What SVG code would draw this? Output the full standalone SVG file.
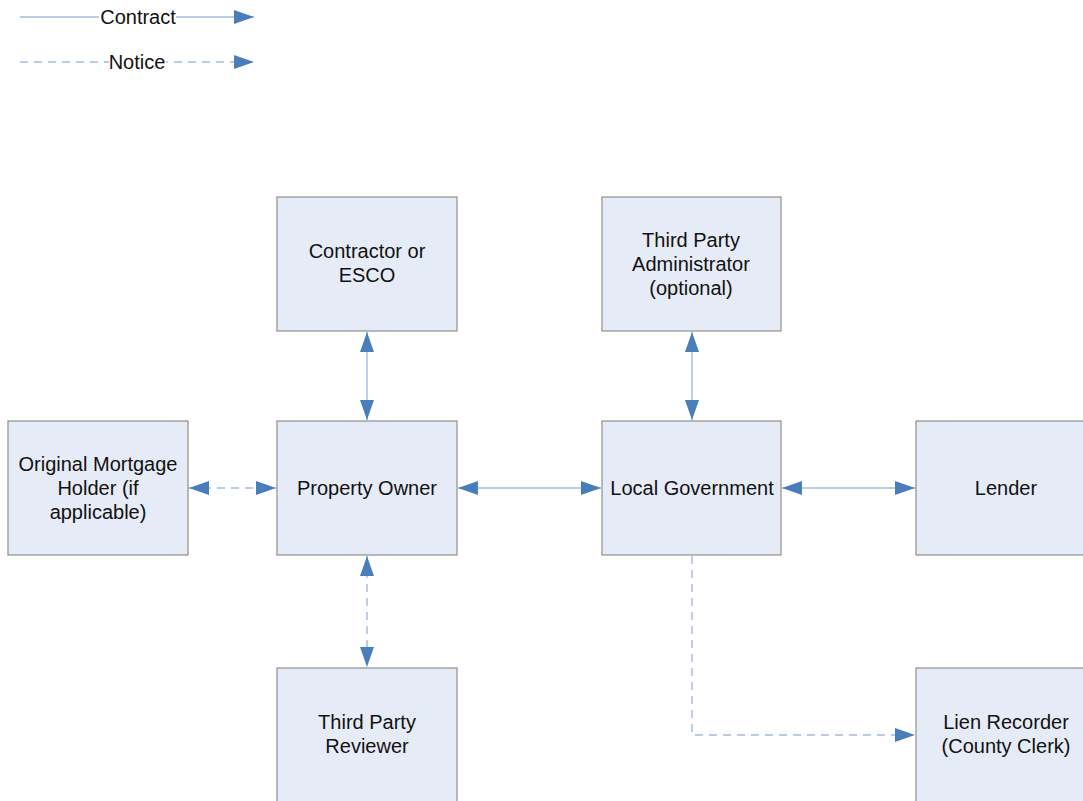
<svg xmlns="http://www.w3.org/2000/svg" width="1083" height="801" viewBox="0 0 1083 801">
  <defs>
    <marker id="head" viewBox="0 0 20 14" refX="20" refY="7" markerWidth="20" markerHeight="14" markerUnits="userSpaceOnUse" orient="auto-start-reverse">
      <path d="M0,0 L20,7 L0,14 Z" fill="#4a7ebb"/>
    </marker>
    <style>
      .box { fill: #e6ecf7; stroke: #8f8f8f; stroke-width: 1.2; }
      .lbl { font-family: "Liberation Sans", Arial, sans-serif; font-size: 20px; fill: #111; text-anchor: middle; }
      .solid { fill: none; stroke: #a3bbdd; stroke-width: 1.4; }
      .dash { fill: none; stroke: #a3bbdd; stroke-width: 1.4; stroke-dasharray: 8 6; }
    </style>
  </defs>
  <rect width="1083" height="801" fill="#ffffff"/>

  <!-- legend -->
  <g id="legend">
    <line class="solid" x1="20" y1="17" x2="254" y2="17" marker-end="url(#head)"/>
    <rect x="99" y="6" width="77" height="22" fill="#ffffff"/>
    <text class="lbl" x="138" y="24">Contract</text>
    <line class="dash" x1="20" y1="62" x2="254" y2="62" marker-end="url(#head)"/>
    <rect x="109" y="51" width="57" height="22" fill="#ffffff"/>
    <text class="lbl" x="137" y="69">Notice</text>
  </g>

  <!-- connectors -->
  <g id="connectors">
    <line class="solid" x1="367" y1="332" x2="367" y2="420" marker-start="url(#head)" marker-end="url(#head)"/>
    <line class="solid" x1="692" y1="332" x2="692" y2="420" marker-start="url(#head)" marker-end="url(#head)"/>
    <line class="dash" x1="189" y1="488" x2="276" y2="488" marker-start="url(#head)" marker-end="url(#head)"/>
    <line class="solid" x1="458" y1="488" x2="601" y2="488" marker-start="url(#head)" marker-end="url(#head)"/>
    <line class="solid" x1="782" y1="488" x2="915" y2="488" marker-start="url(#head)" marker-end="url(#head)"/>
    <line class="dash" x1="367" y1="556" x2="367" y2="667" marker-start="url(#head)" marker-end="url(#head)"/>
    <polyline class="dash" points="692,556 692,735 915,735" marker-end="url(#head)"/>
  </g>

  <g id="contractor">
    <rect class="box" x="277" y="197" width="180" height="134"/>
    <text class="lbl" x="367" y="258">Contractor or</text>
    <text class="lbl" x="367" y="282">ESCO</text>
  </g>
  <g id="administrator">
    <rect class="box" x="602" y="197" width="179" height="134"/>
    <text class="lbl" x="691" y="247">Third Party</text>
    <text class="lbl" x="691" y="271">Administrator</text>
    <text class="lbl" x="691" y="295">(optional)</text>
  </g>
  <g id="mortgage-holder">
    <rect class="box" x="8" y="421" width="180" height="134"/>
    <text class="lbl" x="98" y="471">Original Mortgage</text>
    <text class="lbl" x="98" y="495">Holder (if</text>
    <text class="lbl" x="98" y="519">applicable)</text>
  </g>
  <g id="property-owner">
    <rect class="box" x="277" y="421" width="180" height="134"/>
    <text class="lbl" x="367" y="495">Property Owner</text>
  </g>
  <g id="local-government">
    <rect class="box" x="602" y="421" width="179" height="134"/>
    <text class="lbl" x="692" y="495">Local Government</text>
  </g>
  <g id="lender">
    <rect class="box" x="916" y="421" width="180" height="134"/>
    <text class="lbl" x="1006" y="495">Lender</text>
  </g>
  <g id="reviewer">
    <rect class="box" x="277" y="668" width="180" height="140"/>
    <text class="lbl" x="367" y="729">Third Party</text>
    <text class="lbl" x="367" y="753">Reviewer</text>
  </g>
  <g id="lien-recorder">
    <rect class="box" x="916" y="668" width="180" height="140"/>
    <text class="lbl" x="1006" y="729">Lien Recorder</text>
    <text class="lbl" x="1006" y="753">(County Clerk)</text>
  </g>
</svg>
